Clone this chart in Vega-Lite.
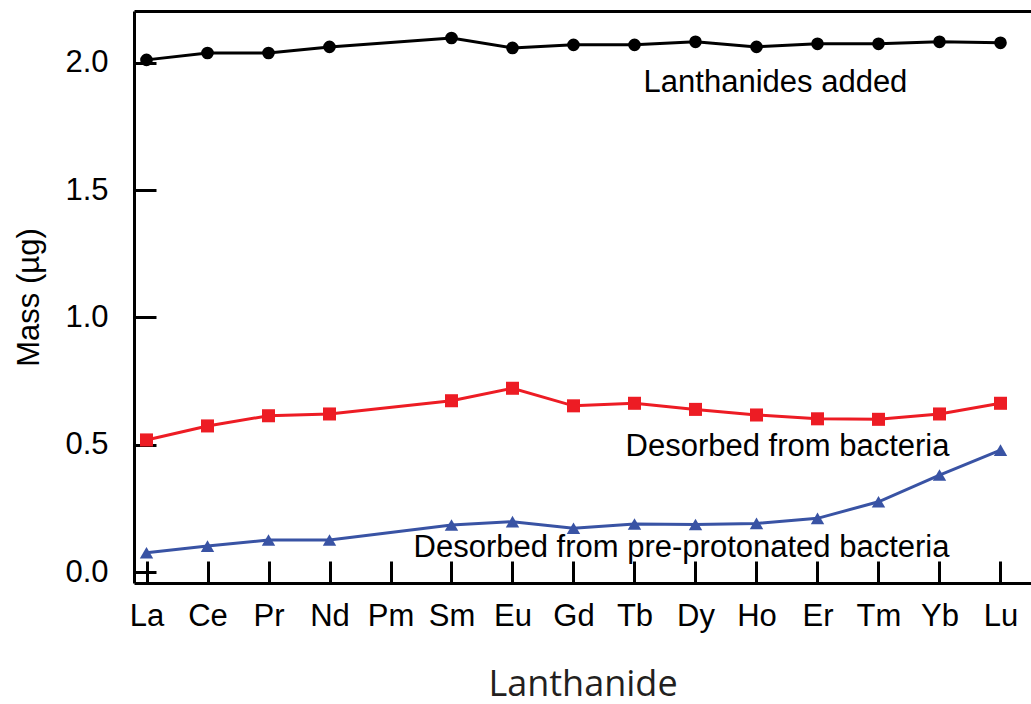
{
  "$schema": "https://vega.github.io/schema/vega-lite/v6.json",
  "width": 897,
  "height": 572,
  "autosize": "none",
  "padding": {"left": 134, "top": 11, "right": 0, "bottom": 121},
  "config": {
    "view": {"stroke": null},
    "font": "Liberation Sans",
    "axis": {"grid": false}
  },
  "datasets": {
    "series": [
      {"element": "La", "Z": 57, "series": "added", "mass": 2.012},
      {"element": "Ce", "Z": 58, "series": "added", "mass": 2.039},
      {"element": "Pr", "Z": 59, "series": "added", "mass": 2.039},
      {"element": "Nd", "Z": 60, "series": "added", "mass": 2.063},
      {"element": "Sm", "Z": 62, "series": "added", "mass": 2.098},
      {"element": "Eu", "Z": 63, "series": "added", "mass": 2.059},
      {"element": "Gd", "Z": 64, "series": "added", "mass": 2.071},
      {"element": "Tb", "Z": 65, "series": "added", "mass": 2.071},
      {"element": "Dy", "Z": 66, "series": "added", "mass": 2.083},
      {"element": "Ho", "Z": 67, "series": "added", "mass": 2.063},
      {"element": "Er", "Z": 68, "series": "added", "mass": 2.075},
      {"element": "Tm", "Z": 69, "series": "added", "mass": 2.075},
      {"element": "Yb", "Z": 70, "series": "added", "mass": 2.083},
      {"element": "Lu", "Z": 71, "series": "added", "mass": 2.079},
      {"element": "La", "Z": 57, "series": "bacteria", "mass": 0.519},
      {"element": "Ce", "Z": 58, "series": "bacteria", "mass": 0.574},
      {"element": "Pr", "Z": 59, "series": "bacteria", "mass": 0.614},
      {"element": "Nd", "Z": 60, "series": "bacteria", "mass": 0.621},
      {"element": "Sm", "Z": 62, "series": "bacteria", "mass": 0.673},
      {"element": "Eu", "Z": 63, "series": "bacteria", "mass": 0.722},
      {"element": "Gd", "Z": 64, "series": "bacteria", "mass": 0.653},
      {"element": "Tb", "Z": 65, "series": "bacteria", "mass": 0.663},
      {"element": "Dy", "Z": 66, "series": "bacteria", "mass": 0.639},
      {"element": "Ho", "Z": 67, "series": "bacteria", "mass": 0.617},
      {"element": "Er", "Z": 68, "series": "bacteria", "mass": 0.602},
      {"element": "Tm", "Z": 69, "series": "bacteria", "mass": 0.600},
      {"element": "Yb", "Z": 70, "series": "bacteria", "mass": 0.621},
      {"element": "Lu", "Z": 71, "series": "bacteria", "mass": 0.663},
      {"element": "La", "Z": 57, "series": "preprotonated", "mass": 0.076},
      {"element": "Ce", "Z": 58, "series": "preprotonated", "mass": 0.102},
      {"element": "Pr", "Z": 59, "series": "preprotonated", "mass": 0.126},
      {"element": "Nd", "Z": 60, "series": "preprotonated", "mass": 0.126},
      {"element": "Sm", "Z": 62, "series": "preprotonated", "mass": 0.185},
      {"element": "Eu", "Z": 63, "series": "preprotonated", "mass": 0.198},
      {"element": "Gd", "Z": 64, "series": "preprotonated", "mass": 0.172},
      {"element": "Tb", "Z": 65, "series": "preprotonated", "mass": 0.189},
      {"element": "Dy", "Z": 66, "series": "preprotonated", "mass": 0.187},
      {"element": "Ho", "Z": 67, "series": "preprotonated", "mass": 0.191},
      {"element": "Er", "Z": 68, "series": "preprotonated", "mass": 0.211},
      {"element": "Tm", "Z": 69, "series": "preprotonated", "mass": 0.276},
      {"element": "Yb", "Z": 70, "series": "preprotonated", "mass": 0.381},
      {"element": "Lu", "Z": 71, "series": "preprotonated", "mass": 0.479}
    ],
    "topLabel": [
      {"element": "Ho", "mass": 1.886, "text": "Lanthanides added"}
    ],
    "lowLabels": [
      {"element": "Yb", "mass": 0.456, "text": "Desorbed from bacteria"},
      {"element": "Yb", "mass": 0.059, "text": "Desorbed from pre-protonated bacteria"}
    ]
  },
  "layer": [
    {
      "data": {"name": "series"},
      "mark": {"type": "line", "strokeWidth": 3},
      "encoding": {
        "x": {
          "field": "element", "type": "ordinal",
          "scale": {"type": "point", "domain": ["La","Ce","Pr","Nd","Pm","Sm","Eu","Gd","Tb","Dy","Ho","Er","Tm","Yb","Lu"], "padding": 0.3525, "align": 0.2907},
          "axis": {
            "orient": "bottom", "title": "Lanthanide", "labelAngle": 0,
            "labelFont": "Liberation Sans", "labelFontSize": 31, "labelColor": "#000000",
            "labelPadding": 40, "tickSize": -22, "tickWidth": 3, "tickColor": "#000000",
            "domainWidth": 3, "domainColor": "#000000",
            "titleFont": "Open Sans", "titleFontSize": 36, "titleFontWeight": "normal", "titleColor": "#231F20",
            "titlePadding": 36
          }
        },
        "y": {
          "field": "mass", "type": "quantitative",
          "scale": {"domain": [-0.043, 2.204], "nice": false, "zero": false},
          "axis": {
            "title": "Mass (µg)", "values": [0, 0.5, 1, 1.5, 2], "format": ".1f",
            "labelFont": "Liberation Sans", "labelFontSize": 31, "labelColor": "#000000",
            "labelPadding": 48, "tickSize": -22, "tickWidth": 3, "tickColor": "#000000",
            "domainWidth": 3, "domainColor": "#000000",
            "titleFont": "Liberation Sans", "titleFontSize": 31, "titleFontWeight": "normal", "titleColor": "#000000",
            "titlePadding": 19
          }
        },
        "color": {"field": "series", "type": "nominal", "scale": {"domain": ["added","bacteria","preprotonated"], "range": ["#000000","#ED1C24","#3953A4"]}, "legend": null},
        "order": {"field": "Z", "type": "quantitative"}
      }
    },
    {
      "data": {"name": "series"},
      "mark": {"type": "point", "filled": true, "opacity": 1},
      "encoding": {
        "x": {"field": "element", "type": "ordinal", "axis": null},
        "y": {"field": "mass", "type": "quantitative"},
        "color": {"field": "series", "type": "nominal", "legend": null},
        "shape": {"field": "series", "type": "nominal", "scale": {"domain": ["added","bacteria","preprotonated"], "range": ["circle","square","triangle-up"]}, "legend": null},
        "size": {"field": "series", "type": "nominal", "scale": {"domain": ["added","bacteria","preprotonated"], "range": [160, 180, 230]}, "legend": null}
      }
    },
    {
      "data": {"name": "topLabel"},
      "mark": {"type": "text", "align": "center", "baseline": "alphabetic", "dx": 19, "fontSize": 31, "font": "Liberation Sans", "color": "#000000"},
      "encoding": {
        "x": {"field": "element", "type": "ordinal", "axis": null},
        "y": {"field": "mass", "type": "quantitative"},
        "text": {"field": "text"}
      }
    },
    {
      "data": {"name": "lowLabels"},
      "mark": {"type": "text", "align": "right", "baseline": "alphabetic", "dx": 10, "fontSize": 31, "font": "Liberation Sans", "color": "#000000"},
      "encoding": {
        "x": {"field": "element", "type": "ordinal", "axis": null},
        "y": {"field": "mass", "type": "quantitative"},
        "text": {"field": "text"}
      }
    },
    {
      "data": {"name": "series"},
      "mark": {"type": "point", "opacity": 0},
      "encoding": {
        "x": {"field": "element", "type": "ordinal", "axis": {"orient": "top", "labels": false, "ticks": false, "title": null, "domainWidth": 3, "domainColor": "#000000"}},
        "y": {"field": "mass", "type": "quantitative"}
      }
    }
  ],
  "resolve": {"axis": {"x": "independent"}}
}
